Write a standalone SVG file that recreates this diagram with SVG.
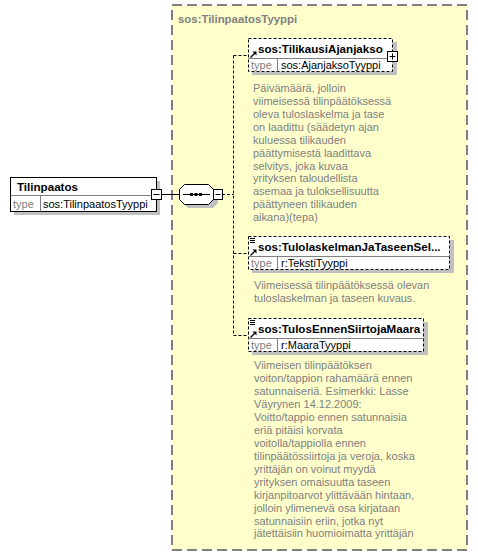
<svg xmlns="http://www.w3.org/2000/svg" width="478" height="556" viewBox="0 0 478 556">
<defs>
<style>
text{font-family:"Liberation Sans",Arial,sans-serif;}
.title{font-size:11.6px;font-weight:bold;fill:#000;}
.typ{font-size:11px;fill:#808080;}
.tv{font-size:11px;fill:#000;}
.desc{font-size:11px;fill:#808080;}
.shadow{fill:#c0c0c0;}
.ebox{fill:#fff;stroke:#000;stroke-width:1;stroke-dasharray:3 2;}
.sbox{fill:#fff;stroke:#000;stroke-width:1;}
.conn{fill:none;stroke:#000;stroke-width:1;stroke-dasharray:3 2;}
.sep{stroke:#808080;stroke-width:1;}
.btn{fill:#fff;stroke:#000;stroke-width:1;}
</style>
</defs>
<rect width="478" height="556" fill="#fff"/>
<g id="complexType">
<rect x="172" y="5" width="295" height="545" fill="#ffffcc" stroke="#808080" stroke-width="2" stroke-dasharray="10 5"/>
<text x="178" y="23" style="font-size:11.4px;font-weight:bold;fill:#808080;">sos:TilinpaatosTyyppi</text>
</g>
<g id="connectors">
<line x1="161" y1="194.5" x2="179" y2="194.5" stroke="#000" stroke-width="1"/>
<path class="conn" d="M222 194.5H233.5M233.5 55.5V335.5M233.5 55.5H248M233.5 253.5H248M233.5 335.5H248"/>
</g>
<g id="Tilinpaatos">
<rect class="shadow" x="14" y="181" width="146" height="34"/>
<rect class="sbox" x="10.5" y="177.5" width="146" height="34"/>
<line class="sep" x1="10.5" y1="195.5" x2="156.5" y2="195.5"/>
<line class="sep" x1="40.5" y1="195.5" x2="40.5" y2="211.5"/>
<text class="title" x="17" y="191">Tilinpaatos</text>
<text class="typ" x="13" y="208">type</text>
<text class="tv" x="43" y="208">sos:TilinpaatosTyyppi</text>
<rect class="btn" x="151.5" y="189.5" width="10" height="10"/>
<line x1="153.5" y1="194.5" x2="159.5" y2="194.5" stroke="#000"/>
</g>
<g id="sequence">
<path class="shadow" d="M188 188H213L218 193V203L213 208H188L183 203V193Z"/>
<path d="M184.5 184.5H208.5L213.5 189.5V199.5L208.5 204.5H184.5L179.5 199.5V189.5Z" fill="#fff" stroke="#000"/>
<line x1="183" y1="194.5" x2="210" y2="194.5" stroke="#000"/>
<rect x="190" y="193" width="3" height="3" fill="#000"/>
<rect x="194.5" y="193" width="3" height="3" fill="#000"/>
<rect x="199" y="193" width="3" height="3" fill="#000"/>
<rect class="btn" x="213.5" y="189.5" width="9" height="10"/>
<line x1="215.5" y1="194.5" x2="220.5" y2="194.5" stroke="#000"/>
</g>
<g id="TilikausiAjanjakso">
<rect class="shadow" x="252" y="42" width="145" height="33"/>
<rect class="ebox" x="248.5" y="38.5" width="144" height="33"/>
<line class="sep" x1="248.5" y1="58.5" x2="392.5" y2="58.5"/>
<line class="sep" x1="277.5" y1="58.5" x2="277.5" y2="71.5"/>
<path d="M250.5 57.5L255 53" stroke="#000" stroke-width="1.2"/>
<path d="M256.5 51.5L256.5 55.5L252.5 51.5Z" fill="#000"/>
<text class="title" x="258" y="53">sos:TilikausiAjanjakso</text>
<text class="typ" x="251" y="69">type</text>
<text class="tv" x="281" y="69">sos:AjanjaksoTyyppi</text>
<rect class="btn" x="387.5" y="51.5" width="10" height="10"/>
<path d="M389.5 56.5H395.5M392.5 53.5V59.5" stroke="#000"/>
<text class="desc" x="253" y="92">Päivämäärä, jolloin</text>
<text class="desc" x="253" y="105">viimeisessä tilinpäätöksessä</text>
<text class="desc" x="253" y="118">oleva tuloslaskelma ja tase</text>
<text class="desc" x="253" y="130.5">on laadittu (säädetyn ajan</text>
<text class="desc" x="253" y="143.5">kuluessa tilikauden</text>
<text class="desc" x="253" y="156.5">päättymisestä laadittava</text>
<text class="desc" x="253" y="169.5">selvitys, joka kuvaa</text>
<text class="desc" x="253" y="182">yrityksen taloudellista</text>
<text class="desc" x="253" y="195">asemaa ja tuloksellisuutta</text>
<text class="desc" x="253" y="208">päättyneen tilikauden</text>
<text class="desc" x="253" y="221">aikana)(tepa)</text>
</g>
<g id="TulolaskelmanJaTaseenSelvitys">
<rect class="shadow" x="252" y="240" width="202" height="33"/>
<rect class="ebox" x="248.5" y="236.5" width="201" height="33"/>
<line class="sep" x1="248.5" y1="256.5" x2="449.5" y2="256.5"/>
<line class="sep" x1="277.5" y1="256.5" x2="277.5" y2="269.5"/>
<path d="M250 238.5H255M250 240.5H255M250 242.5H255" stroke="#000" stroke-width="1"/>
<path d="M250.5 255.5L255 251" stroke="#000" stroke-width="1.2"/>
<path d="M256.5 249.5L256.5 253.5L252.5 249.5Z" fill="#000"/>
<text class="title" x="258" y="251">sos:TulolaskelmanJaTaseenSel...</text>
<text class="typ" x="251" y="267">type</text>
<text class="tv" x="281" y="267">r:TekstiTyyppi</text>
<text class="desc" x="254" y="289">Viimeisessä tilinpäätöksessä olevan</text>
<text class="desc" x="254" y="302">tuloslaskelman ja taseen kuvaus.</text>
</g>
<g id="TulosEnnenSiirtojaMaara">
<rect class="shadow" x="252" y="322" width="176" height="33"/>
<rect class="ebox" x="248.5" y="318.5" width="175" height="33"/>
<line class="sep" x1="248.5" y1="338.5" x2="423.5" y2="338.5"/>
<line class="sep" x1="277.5" y1="338.5" x2="277.5" y2="351.5"/>
<path d="M250 320.5H255M250 322.5H255M250 324.5H255" stroke="#000" stroke-width="1"/>
<path d="M250.5 337.5L255 333" stroke="#000" stroke-width="1.2"/>
<path d="M256.5 331.5L256.5 335.5L252.5 331.5Z" fill="#000"/>
<text class="title" x="258" y="333">sos:TulosEnnenSiirtojaMaara</text>
<text class="typ" x="251" y="349">type</text>
<text class="tv" x="281" y="349">r:MaaraTyyppi</text>
<text class="desc" x="254" y="369">Viimeisen tilinpäätöksen</text>
<text class="desc" x="254" y="382">voiton/tappion rahamäärä ennen</text>
<text class="desc" x="254" y="395">satunnaiseriä. Esimerkki: Lasse</text>
<text class="desc" x="254" y="408">Väyrynen 14.12.2009:</text>
<text class="desc" x="254" y="421">Voitto/tappio ennen satunnaisia</text>
<text class="desc" x="254" y="434">eriä pitäisi korvata</text>
<text class="desc" x="254" y="447">voitolla/tappiolla ennen</text>
<text class="desc" x="254" y="459.5">tilinpäätössiirtoja ja veroja, koska</text>
<text class="desc" x="254" y="472.5">yrittäjän on voinut myydä</text>
<text class="desc" x="254" y="485.5">yrityksen omaisuutta taseen</text>
<text class="desc" x="254" y="498.5">kirjanpitoarvot ylittävään hintaan,</text>
<text class="desc" x="254" y="511.5">jolloin ylimenevä osa kirjataan</text>
<text class="desc" x="254" y="524.5">satunnaisiin eriin, jotka nyt</text>
<text class="desc" x="254" y="537">jätettäisiin huomioimatta yrittäjän</text>
</g>
</svg>
